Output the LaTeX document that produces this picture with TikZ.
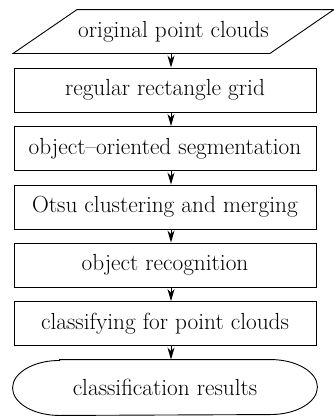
\documentclass[tikz,border=0pt]{standalone}
\usetikzlibrary{arrows.meta}
\begin{document}
\begin{tikzpicture}[x=1pt,y=-1pt,
  procbox/.style={draw, line width=0.9pt, minimum width=302pt, minimum height=44pt, inner sep=0pt, font=\fontsize{23.3}{28}\selectfont},
  flow/.style={-{Stealth[length=12pt,width=7pt,inset=3.5pt]}, line width=1pt}]
\useasboundingbox (0,0) rectangle (334,416);
% input: slanted box around the text
\node[procbox, draw=none, minimum width=256pt, minimum height=43pt] (src) at (173.5,31.5) {original point clouds};
\draw[line width=0.9pt] ([xshift=-32pt]src.south west) -- ([xshift=-32pt]src.south east)
  -- ([xshift=32pt]src.north east) -- ([xshift=32pt]src.north west) -- cycle;
% processing steps
\node[procbox] (grid) at (165,90) {regular rectangle grid};
\node[procbox] (seg) at (165,148.5) {object--oriented segmentation};
\node[procbox] (otsu) at (165,207) {Otsu clustering and merging};
\node[procbox] (recog) at (165,265) {object recognition};
\node[procbox] (cls) at (165,323.5) {classifying for point clouds};
% output: flat box with elliptic ends
\node[procbox, draw=none, minimum width=210pt, minimum height=55pt] (res) at (165,387.5) {classification results};
\draw[line width=0.9pt] (res.north west) -- (res.north east)
  arc[start angle=90, end angle=-90, x radius=47pt, y radius=27.5pt]
  -- (res.south west)
  arc[start angle=270, end angle=90, x radius=47pt, y radius=27.5pt] -- cycle;
% arrows
\draw[flow] ([xshift=-2.5pt]src.south) -- ([xshift=6pt]grid.north);
\draw[flow] ([xshift=6pt]grid.south) -- ([xshift=6pt]seg.north);
\draw[flow] ([xshift=6pt]seg.south) -- ([xshift=6pt]otsu.north);
\draw[flow] ([xshift=6pt]otsu.south) -- ([xshift=6pt]recog.north);
\draw[flow] ([xshift=6pt]recog.south) -- ([xshift=6pt]cls.north);
\draw[flow] ([xshift=6pt]cls.south) -- ([xshift=6pt]res.north);
\end{tikzpicture}
\end{document}
